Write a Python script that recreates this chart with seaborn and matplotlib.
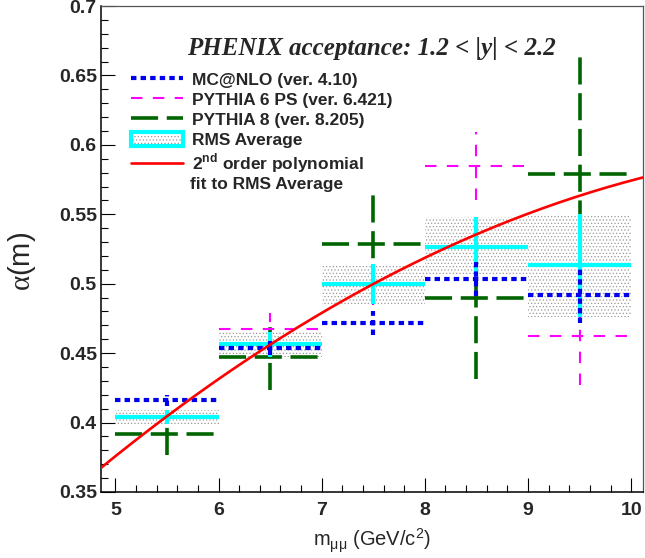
import numpy as np
import matplotlib
matplotlib.use("Agg")
import matplotlib.pyplot as plt
import seaborn as sns
from matplotlib.lines import Line2D
from matplotlib.patches import Rectangle
from matplotlib.legend_handler import HandlerTuple

# -------------------------------
# data
# -------------------------------
mass_bins = [5.5, 6.5, 7.5, 8.5, 9.5]   # bin centres (GeV/c^2)
bin_half_width = 0.5

mcnlo_val = [0.416, 0.454, 0.4716, 0.5033, 0.492]
mcnlo_err = [0.004, 0.005, 0.0085, 0.012, 0.020]

py6_val = [0.405, 0.4677, 0.499, 0.585, 0.4624]
py6_err = [0.005, 0.011, 0.0145, 0.0245, 0.0355]

py8_val = [0.392, 0.4474, 0.5283, 0.4894, 0.5788]
py8_err = [0.015, 0.024, 0.036, 0.058, 0.090]

rms_val = [0.4038, 0.4564, 0.5000, 0.5267, 0.5132]
rms_err = [0.005, 0.009, 0.0145, 0.021, 0.037]

# 2nd order polynomial (c2, c1, c0) fitted to the RMS average
fit_coef = [-0.00396, 0.0991, -0.0207]

x_ticks = [5, 6, 7, 8, 9, 10]
y_ticks = [0.35, 0.4, 0.45, 0.5, 0.55, 0.6, 0.65, 0.7]
y_tick_labels = ['0.35', '0.4', '0.45', '0.5', '0.55', '0.6', '0.65', '0.7']

x_range = (4.86, 10.115)
y_range = (0.35, 0.70)

# -------------------------------
# style
# -------------------------------
sns.set_style("ticks")
plt.rcParams['font.family'] = ['Liberation Sans', 'DejaVu Sans']
plt.rcParams['mathtext.fontset'] = 'custom'
plt.rcParams['mathtext.rm'] = 'Liberation Serif'
plt.rcParams['hatch.linewidth'] = 0.5

fig = plt.figure(figsize=(6.45, 5.58), dpi=100)
ax = fig.add_axes([101/645, 1-492/558, 542/645, 486/558])

# grey dotted boxes of the RMS average
box_color = '#9a9a9a'
ax.bar(mass_bins, [2*e for e in rms_err], bottom=[v-e for v, e in zip(rms_val, rms_err)],
       width=2*bin_half_width, fill=False, hatch='.....', edgecolor=box_color,
       linewidth=0, zorder=1)

blue_ls = (0, (1.3, 1.0))
mag_ls = (0, (5.5, 5.0))
green_ls = (0, (7.5, 2.4))


def draw_series(val, err, color, lw, ls, z):
    eb = ax.errorbar(mass_bins, val, xerr=bin_half_width, yerr=err, fmt='none',
                     ecolor=color, elinewidth=lw, capsize=0, zorder=z)
    for lc in eb[2]:
        lc.set_linestyle(ls)
        lc.set_capstyle('butt')


draw_series(py8_val, py8_err, '#006400', 2.6, green_ls, 2)
draw_series(py6_val, py6_err, '#ff00ff', 1.5, mag_ls, 3)
draw_series(rms_val, rms_err, '#00ffff', 3.0, '-', 4)
draw_series(mcnlo_val, mcnlo_err, '#0000ee', 3.0, blue_ls, 5)

fit_x = np.linspace(x_range[0], x_range[1], 200)
fit_y = np.polyval(fit_coef, fit_x)
sns.lineplot(x=fit_x, y=fit_y, color='#ff0000', linewidth=1.9, ax=ax, zorder=6)

# -------------------------------
# axes
# -------------------------------
ax.set_xlim(*x_range)
ax.set_ylim(*y_range)
ax.set_xticks(x_ticks)
ax.set_xticklabels([str(v) for v in x_ticks], fontsize=14, fontweight='bold')
ax.set_xticks(np.arange(5, 10.2, 0.2), minor=True)
ax.set_yticks(y_ticks)
ax.set_yticklabels(y_tick_labels, fontsize=14, fontweight='bold')
ax.set_yticks(np.arange(0.35, 0.701, 0.01), minor=True)
ax.tick_params(which='both', direction='in', top=False, right=False, width=0.8, color='black')
ax.tick_params(which='major', length=10)
ax.tick_params(which='minor', length=5)
ax.tick_params(axis='x', pad=7)
ax.tick_params(axis='y', pad=3)

for s in ['left', 'bottom']:
    ax.spines[s].set_color('black')
    ax.spines[s].set_linewidth(1.1)
for s in ['top', 'right']:
    ax.spines[s].set_visible(True)
    ax.spines[s].set_color('#555555')
    ax.spines[s].set_linewidth(0.9)

ax.set_xlabel(r"m$_{\mathregular{\mu\mu}}$ (GeV/c$^{\mathregular{2}}$)", fontsize=14.5)
ax.xaxis.set_label_coords(0.5, -0.1008)
ax.xaxis.label.set_va('center')
ax.set_ylabel(r"$\mathrm{\alpha}$(m)", fontsize=21)
ax.yaxis.set_label_coords(-0.146, 0.475)
ax.yaxis.label.set_va('center')

fig.text(371/645, 1-55/558, "PHENIX acceptance: 1.2 < |y| < 2.2", ha='center', va='baseline',
         fontsize=18, fontweight='bold', fontstyle='italic', family='Liberation Serif')

# -------------------------------
# legend
# -------------------------------
handles = [
    Line2D([], [], color='#0000ee', lw=3.0, ls=blue_ls, solid_capstyle='butt'),
    Line2D([], [], color='#ff00ff', lw=1.5, ls=mag_ls),
    Line2D([], [], color='#006400', lw=2.6, ls=green_ls),
    (Rectangle((0, 0), 1, 1, fill=False, hatch='.....', edgecolor=box_color, lw=0),
     Rectangle((0, 0), 1, 1, fill=False, edgecolor='#00ffff', lw=3.0)),
    Line2D([], [], color='#ff0000', lw=1.9),
]
labels = ["MC@NLO (ver. 4.10)", "PYTHIA 6 PS (ver. 6.421)", "PYTHIA 8 (ver. 8.205)",
          "RMS Average", r"2$^{\mathregular{nd}}$ order polynomial"]
leg = fig.legend(handles, labels, loc='upper left', bbox_to_anchor=(122/645, 1-63/558),
                 frameon=False, borderpad=0, handlelength=3.0, handletextpad=0.55,
                 labelspacing=0.22, handleheight=0.9, fontsize=12.5,
                 handler_map={tuple: HandlerTuple(ndivide=1)})
for t in leg.get_texts():
    t.set_fontweight('bold')
fig.text(190/645, 1-184/558, "fit to RMS Average", ha='left', va='center',
         fontsize=12.5, fontweight='bold')

fig.savefig("out.png", dpi=100)
